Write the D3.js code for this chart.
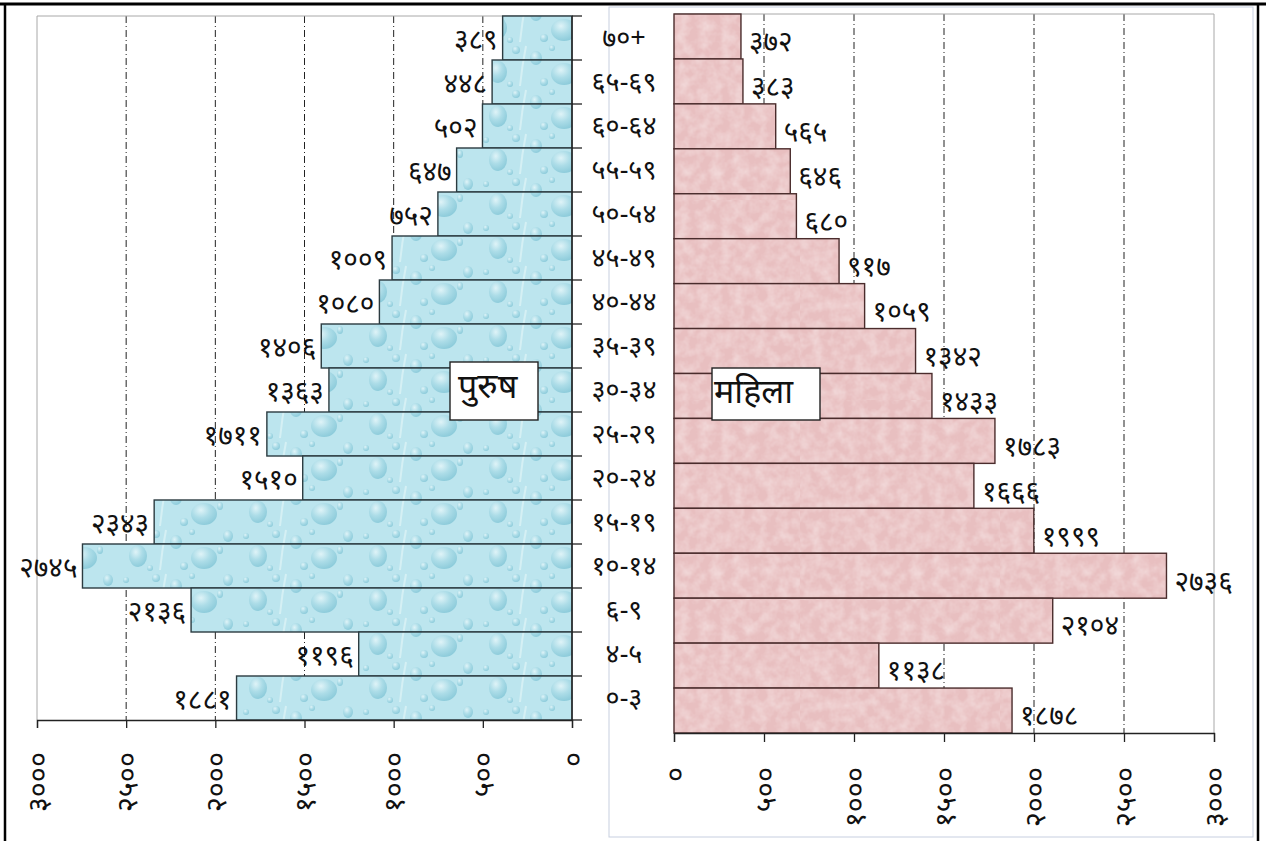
<!DOCTYPE html>
<html>
<head>
<meta charset="utf-8">
<script src="https://cdn.jsdelivr.net/npm/d3@7"></script>
<style>
  html, body { margin: 0; padding: 0; background: #fff; }
  svg { display: block; }
  text { font-family: "Noto Sans", "DejaVu Sans", "Liberation Sans", sans-serif; fill: #111; }
</style>
</head>
<body>
<svg id="chart" width="1266" height="841"></svg>
<script>
// ---- data ----
const categories = ["70+", "65-69", "60-64", "55-59", "50-54", "45-49", "40-44", "35-39",
                    "30-34", "25-29", "20-24", "15-19", "10-14", "6-9", "4-5", "0-3"];
const maleValues   = [389, 448, 502, 647, 752, 1009, 1080, 1406, 1363, 1711, 1510, 2343, 2745, 2136, 1196, 1881];
const femaleValues = [372, 383, 565, 646, 680, 917, 1059, 1342, 1433, 1783, 1666, 1999, 2736, 2104, 1138, 1878];
const xTicks = [0, 500, 1000, 1500, 2000, 2500, 3000];
const maleLabel = "पुरुष";
const femaleLabel = "महिला";

const devDigits = "०१२३४५६७८९";
const toDev = s => String(s).replace(/[0-9]/g, d => devDigits[+d]);

const svg = d3.select("#chart");
const defs = svg.append("defs");

// water-drop texture for male bars
const pw = 120, ph = 44;
const drop = defs.append("radialGradient").attr("id", "dropGrad")
  .attr("cx", "38%").attr("cy", "32%").attr("r", "70%");
drop.append("stop").attr("offset", "0%").attr("stop-color", "#eefafc");
drop.append("stop").attr("offset", "50%").attr("stop-color", "#a6d9e5");
drop.append("stop").attr("offset", "100%").attr("stop-color", "#78c0d2");
const pat = defs.append("pattern").attr("id", "water").attr("patternUnits", "userSpaceOnUse")
  .attr("width", pw).attr("height", ph);
pat.append("rect").attr("width", pw).attr("height", ph).attr("fill", "#bce5ee");
const drops = [[18,28,9,11],[56,14,6,7],[84,30,13,11],[36,6,4,4],[108,8,5,6],[64,38,4,4],[6,8,3,3],[100,22,3,4],[30,40,3,3],[72,4,3,3]];
pat.selectAll("ellipse").data(drops).join("ellipse")
  .attr("cx", d => d[0]).attr("cy", d => d[1]).attr("rx", d => d[2]).attr("ry", d => d[3])
  .attr("fill", "url(#dropGrad)").attr("opacity", 0.7);
pat.append("path").attr("d", "M46 2 Q42 22 40 42").attr("stroke", "#e6f6f9").attr("stroke-width", 2).attr("fill", "none").attr("opacity", 0.6);

// pink marbled texture for female bars
const filt = defs.append("filter").attr("id", "marble").attr("x", 0).attr("y", 0).attr("width", "100%").attr("height", "100%");
filt.append("feTurbulence").attr("type", "fractalNoise").attr("baseFrequency", "0.09").attr("numOctaves", 3).attr("seed", 4).attr("result", "noise");
filt.append("feColorMatrix").attr("in", "noise").attr("type", "matrix")
  .attr("values", "0 0 0 0 0.96  0 0 0 0 0.84  0 0 0 0 0.84  0 0 0 0.9 -0.3").attr("result", "tint");
filt.append("feComposite").attr("in", "tint").attr("in2", "SourceGraphic").attr("operator", "atop");
const pink = defs.append("pattern").attr("id", "pink").attr("patternUnits", "userSpaceOnUse")
  .attr("width", 200).attr("height", 200);
pink.append("rect").attr("width", 200).attr("height", 200).attr("fill", "#e8bfc0").attr("filter", "url(#marble)");

// ---- outer frame ----
svg.append("line").attr("x1", 0).attr("x2", 1266).attr("y1", 4).attr("y2", 4).attr("stroke", "#000").attr("stroke-width", 3);
svg.append("line").attr("x1", 5).attr("x2", 5).attr("y1", 3).attr("y2", 841).attr("stroke", "#000").attr("stroke-width", 2.5);
svg.append("line").attr("x1", 1258).attr("x2", 1258).attr("y1", 3).attr("y2", 841).attr("stroke", "#000").attr("stroke-width", 2.5);

// right chart area box
svg.append("rect").attr("x", 609).attr("y", 7).attr("width", 644).attr("height", 830)
  .attr("fill", "#fff").attr("stroke", "#c7cfe0").attr("stroke-width", 1);

// ---- scales ----
const xL = d3.scaleLinear().domain([0, 3000]).range([572, 37]);
const xR = d3.scaleLinear().domain([0, 3000]).range([674, 1214]);
const yL = d3.scaleBand().domain(categories).range([16, 720]).padding(0);
const yR = d3.scaleBand().domain(categories).range([14, 733]).padding(0);

const dashDot = "7,3,1,3";
const valSize = 28, tickSize = 29, catSize = 27, legSize = 34;

// ---- LEFT PANEL (male) ----
const L = svg.append("g");
L.selectAll("line.grid").data(xTicks.filter(t => t > 0 && t < 3000)).join("line")
  .attr("x1", d => xL(d)).attr("x2", d => xL(d)).attr("y1", yL.range()[0]).attr("y2", yL.range()[1])
  .attr("stroke", "#222").attr("stroke-dasharray", dashDot).attr("stroke-width", 1);
L.append("path").attr("d", `M${xL(0)},${yL.range()[0]}H${xL(3000)}V${yL.range()[1]}`)
  .attr("fill", "none").attr("stroke", "#a8a8a8");
L.selectAll("rect.bar").data(categories).join("rect")
  .attr("x", (d, i) => xL(maleValues[i])).attr("y", d => yL(d))
  .attr("width", (d, i) => xL(0) - xL(maleValues[i])).attr("height", yL.bandwidth())
  .attr("fill", "url(#water)").attr("stroke", "#2b3b40").attr("stroke-width", 1.4);
L.selectAll("text.val").data(categories).join("text")
  .attr("x", (d, i) => xL(maleValues[i]) - 5).attr("y", d => yL(d) + yL.bandwidth() / 2 + 1)
  .attr("dy", "0.35em").attr("text-anchor", "end").attr("font-size", valSize)
  .text((d, i) => toDev(maleValues[i]));
const axL = L.append("g").attr("transform", `translate(0,${yL.range()[1]})`)
  .call(d3.axisBottom(xL).tickValues(xTicks).tickSize(8).tickFormat(d => toDev(d)));
axL.select(".domain").attr("stroke", "#222").attr("stroke-width", 1.3);
axL.selectAll(".tick line").attr("stroke", "#222").attr("stroke-width", 1.3);
axL.selectAll(".tick text").attr("font-size", tickSize).attr("fill", "#111")
  .attr("text-anchor", "end").attr("y", 0).attr("dy", "0.35em")
  .attr("transform", "translate(0,32) rotate(-90)");
const ayL = L.append("g").attr("transform", `translate(${xL(0)},0)`);
ayL.append("line").attr("x1", 0).attr("x2", 0).attr("y1", yL.range()[0]).attr("y2", yL.range()[1])
  .attr("stroke", "#222").attr("stroke-width", 1.3);
const bounds = categories.map(c => yL(c)).concat([yL.range()[1]]);
ayL.selectAll("line.tk").data(bounds).join("line")
  .attr("x1", 0).attr("x2", 10).attr("y1", d => d).attr("y2", d => d)
  .attr("stroke", "#222").attr("stroke-width", 1.3);
ayL.selectAll("text.cat").data(categories).join("text")
  .attr("x", 52).attr("y", d => yL(d) + yL.bandwidth() / 2)
  .attr("dy", "0.35em").attr("text-anchor", "middle").attr("font-size", catSize)
  .text(d => toDev(d));

// ---- RIGHT PANEL (female) ----
const R = svg.append("g");
R.selectAll("line.grid").data(xTicks.filter(t => t > 0 && t < 3000)).join("line")
  .attr("x1", d => xR(d)).attr("x2", d => xR(d)).attr("y1", yR.range()[0]).attr("y2", yR.range()[1])
  .attr("stroke", "#222").attr("stroke-dasharray", dashDot).attr("stroke-width", 1);
R.append("path").attr("d", `M${xR(0)},${yR.range()[0]}H${xR(3000)}V${yR.range()[1]}`)
  .attr("fill", "none").attr("stroke", "#a8a8a8");
R.selectAll("rect.bar").data(categories).join("rect")
  .attr("x", xR(0)).attr("y", d => yR(d))
  .attr("width", (d, i) => xR(femaleValues[i]) - xR(0)).attr("height", yR.bandwidth())
  .attr("fill", "url(#pink)").attr("stroke", "#4a2c2c").attr("stroke-width", 1.4);
R.selectAll("text.val").data(categories).join("text")
  .attr("x", (d, i) => xR(femaleValues[i]) + 8).attr("y", d => yR(d) + yR.bandwidth() / 2 + 5)
  .attr("dy", "0.35em").attr("text-anchor", "start").attr("font-size", valSize)
  .text((d, i) => toDev(femaleValues[i]));
const axR = R.append("g").attr("transform", `translate(0,${yR.range()[1]})`)
  .call(d3.axisBottom(xR).tickValues(xTicks).tickSize(9).tickFormat(d => toDev(d)));
axR.select(".domain").attr("stroke", "#222").attr("stroke-width", 1.3);
axR.selectAll(".tick line").attr("stroke", "#222").attr("stroke-width", 1.3);
axR.selectAll(".tick text").attr("font-size", tickSize).attr("fill", "#111")
  .attr("text-anchor", "end").attr("y", 0).attr("dy", "0.35em")
  .attr("transform", "translate(0,34) rotate(-90)");

// ---- legend boxes ----
const lg1 = svg.append("g");
lg1.append("rect").attr("x", 450).attr("y", 362).attr("width", 88).attr("height", 58)
  .attr("fill", "#fff").attr("stroke", "#222").attr("stroke-width", 1.4);
lg1.append("text").attr("x", 458).attr("y", 398).attr("font-size", legSize).text(maleLabel);
const lg2 = svg.append("g");
lg2.append("rect").attr("x", 712).attr("y", 368).attr("width", 108).attr("height", 52)
  .attr("fill", "#fff").attr("stroke", "#222").attr("stroke-width", 1.4);
lg2.append("text").attr("x", 714).attr("y", 403).attr("font-size", legSize).text(femaleLabel);
</script>
</body>
</html>
